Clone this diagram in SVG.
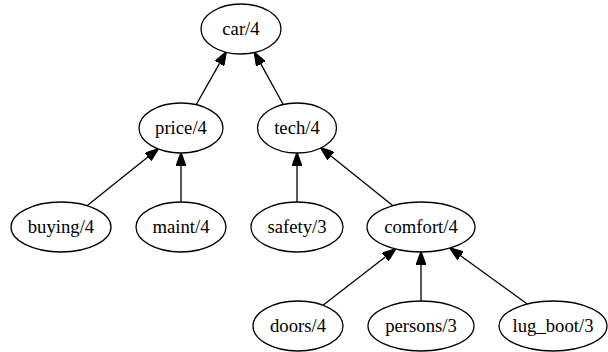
<svg xmlns="http://www.w3.org/2000/svg" width="608" height="352" viewBox="0 0 608 352" font-family="'Liberation Serif', 'Times New Roman', serif">
<style>
.node ellipse{fill:#ffffff;stroke:#000000;stroke-width:1.3}
.node text{font-family:'Liberation Serif','Times New Roman',serif;font-size:18.7px;fill:#000000;text-anchor:middle}
.edge{stroke:#000000;stroke-width:1.3;fill:none;marker-end:url(#arrow)}
</style>
<defs>
<marker id="arrow" markerUnits="userSpaceOnUse" markerWidth="14" markerHeight="10" viewBox="0 0 13 9.4" refX="0" refY="4.7" orient="auto">
<path d="M0,0 L13,4.7 L0,9.4 z" fill="#000000" stroke="#000000" stroke-width="1"/>
</marker>
</defs>
<rect width="608" height="352" fill="#ffffff"/>
<g id="connectors">
<line class="edge" x1="196" y1="105" x2="219.6" y2="63.4"/>
<line class="edge" x1="283.5" y1="105" x2="260.8" y2="63.9"/>
<line class="edge" x1="86.7" y1="206" x2="147.9" y2="157.1"/>
<line class="edge" x1="181" y1="202" x2="181" y2="166"/>
<line class="edge" x1="297" y1="202" x2="297" y2="166"/>
<line class="edge" x1="393.3" y1="206" x2="330.9" y2="156"/>
<line class="edge" x1="323.3" y1="305" x2="385.3" y2="257"/>
<line class="edge" x1="421" y1="301" x2="421" y2="265"/>
<line class="edge" x1="527.3" y1="304" x2="460.6" y2="255.7"/>
</g>
<g id="car" class="node"><ellipse cx="241" cy="29" rx="40" ry="25"/><text x="241" y="34.5">car/4</text></g>
<g id="price" class="node"><ellipse cx="181" cy="128" rx="42" ry="25"/><text x="181" y="133.5">price/4</text></g>
<g id="tech" class="node"><ellipse cx="297" cy="128" rx="39.5" ry="25"/><text x="297" y="133.5">tech/4</text></g>
<g id="buying" class="node"><ellipse cx="61" cy="227" rx="50" ry="25"/><text x="61" y="232.5">buying/4</text></g>
<g id="maint" class="node"><ellipse cx="181" cy="227" rx="45" ry="25"/><text x="181" y="232.5">maint/4</text></g>
<g id="safety" class="node"><ellipse cx="297" cy="227" rx="46" ry="25"/><text x="297" y="232.5">safety/3</text></g>
<g id="comfort" class="node"><ellipse cx="421" cy="227" rx="54" ry="25"/><text x="421" y="232.5">comfort/4</text></g>
<g id="doors" class="node"><ellipse cx="298" cy="326" rx="45" ry="25"/><text x="298" y="331.5">doors/4</text></g>
<g id="persons" class="node"><ellipse cx="421" cy="326" rx="53" ry="25"/><text x="421" y="331.5">persons/3</text></g>
<g id="lug_boot" class="node"><ellipse cx="553" cy="326" rx="54" ry="25"/><text x="553" y="331.5">lug_boot/3</text></g>
</svg>
